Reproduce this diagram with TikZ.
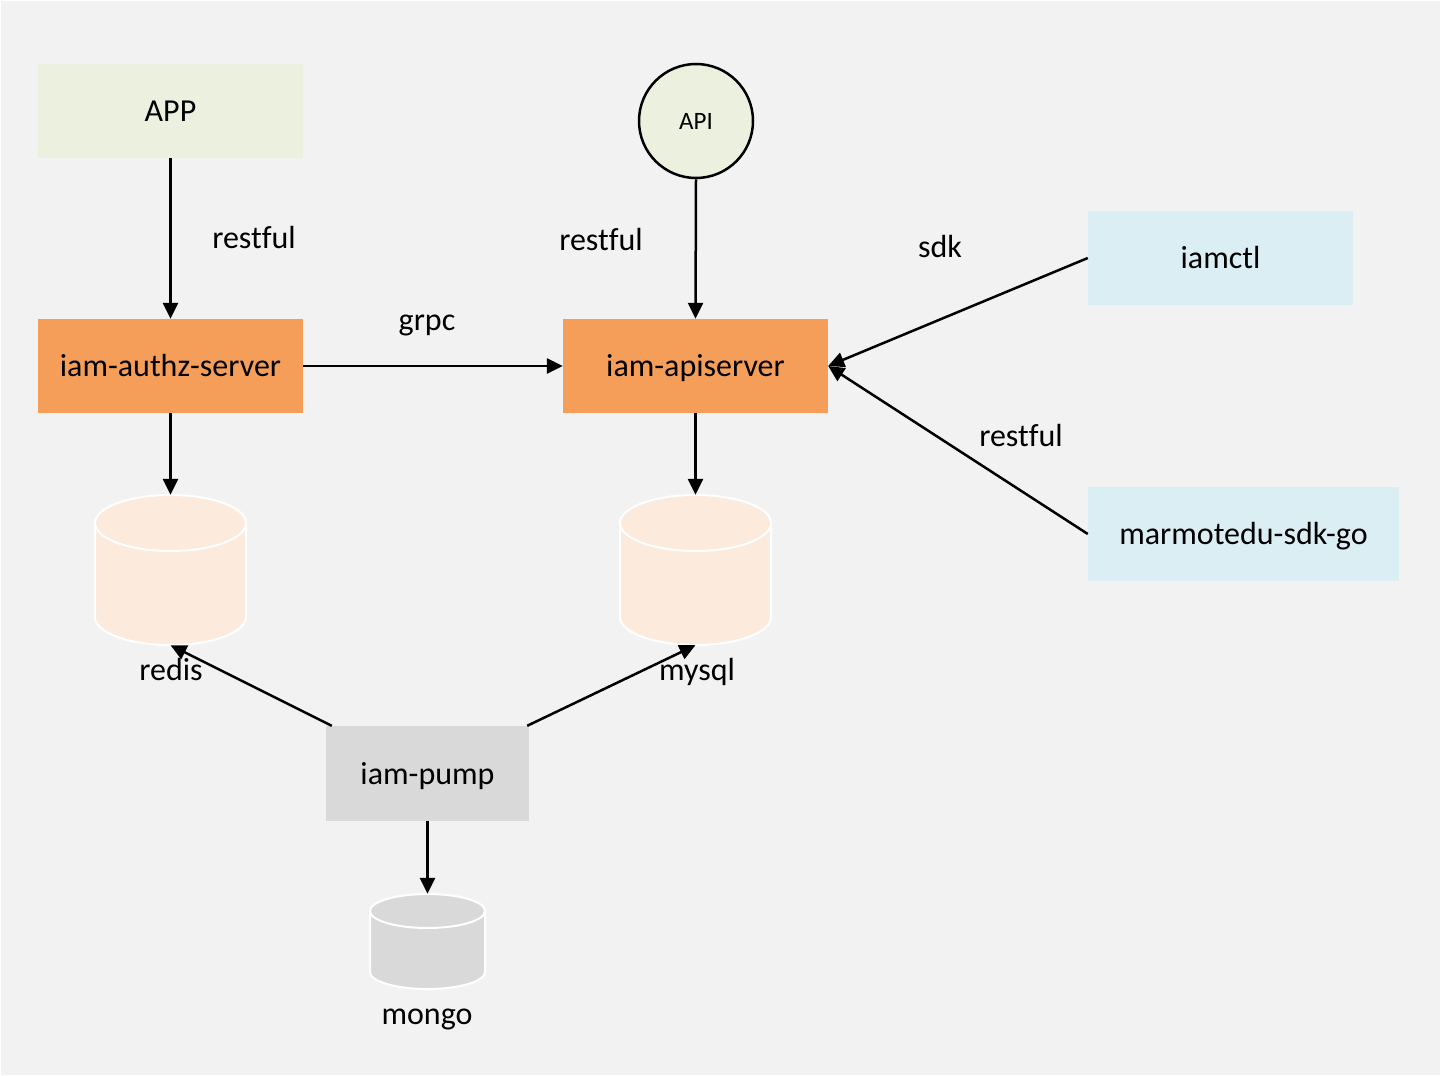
\documentclass[tikz,border=0pt]{standalone}
\usepackage{fontspec}
\setmainfont{Carlito}[Ligatures=NoCommon]
\usetikzlibrary{arrows.meta,calc}
\definecolor{bg}{HTML}{F2F2F2}
\definecolor{appgreen}{HTML}{EBF1DE}
\definecolor{srvorange}{HTML}{F59E5A}
\definecolor{cliblue}{HTML}{DAEEF3}
\definecolor{pumpgrey}{HTML}{D9D9D9}
\definecolor{dbpeach}{HTML}{FCEADC}
\tikzset{
  box/.style={inner sep=0pt, minimum width=265pt, minimum height=94pt, font=\fontsize{32}{38}\selectfont, text height=21pt, text depth=0pt},
  lbl/.style={inner sep=0pt, font=\fontsize{32}{38}\selectfont, text height=21pt, text depth=0pt},
  conn/.style={line width=2.5pt, -{Triangle[length=16pt,width=15pt]}},
  holder/.style={inner sep=0pt},
  cylline/.style={draw=white, line width=2pt}
}
\begin{document}
\begin{tikzpicture}[x=1pt,y=-1pt]
\useasboundingbox (0,0) rectangle (1441,1076);
\fill[white] (0,0) rectangle (1441,1076);
\fill[bg] (1,1) rectangle (1440,1075);

% boxes
\node[box, fill=appgreen] (app) at (170.5,111) {APP};
\node[circle, draw=black, line width=2.5pt, fill=appgreen, minimum size=114pt, inner sep=0pt, font=\fontsize{25}{30}\selectfont, text height=16.5pt, text depth=0pt] (api) at (696,121) {API};
\node[box, fill=srvorange] (authz) at (170.5,366) {iam-authz-server};
\node[box, fill=srvorange] (apisrv) at (695.5,366) {iam-apiserver};
\node[box, fill=cliblue] (iamctl) at (1220.5,258) {iamctl};
\node[box, fill=cliblue, minimum width=311pt] (sdk) at (1243.5,534) {marmotedu-sdk-go};
\node[box, fill=pumpgrey, minimum width=203pt, minimum height=95pt] (pump) at (427.5,773.5) {iam-pump};

% cylinders
\fill[dbpeach] (95,523) -- (95,617) arc[start angle=180,end angle=360,x radius=75.5pt,y radius=28pt] -- (246,523) arc[start angle=0,end angle=180,x radius=75.5pt,y radius=28pt] -- cycle;
\draw[cylline] (95,523) -- (95,617) arc[start angle=180,end angle=360,x radius=75.5pt,y radius=28pt] -- (246,523) arc[start angle=0,end angle=180,x radius=75.5pt,y radius=28pt] -- cycle;
\draw[cylline] (95,523) arc[start angle=180,end angle=360,x radius=75.5pt,y radius=28pt];
\node[holder, minimum width=151pt, minimum height=150pt] (redis) at (170.5,570) {};

\fill[dbpeach] (620,523) -- (620,617) arc[start angle=180,end angle=360,x radius=75.5pt,y radius=28pt] -- (771,523) arc[start angle=0,end angle=180,x radius=75.5pt,y radius=28pt] -- cycle;
\draw[cylline] (620,523) -- (620,617) arc[start angle=180,end angle=360,x radius=75.5pt,y radius=28pt] -- (771,523) arc[start angle=0,end angle=180,x radius=75.5pt,y radius=28pt] -- cycle;
\draw[cylline] (620,523) arc[start angle=180,end angle=360,x radius=75.5pt,y radius=28pt];
\node[holder, minimum width=151pt, minimum height=150pt] (mysql) at (695.5,570) {};

\fill[pumpgrey] (370,911) -- (370,972) arc[start angle=180,end angle=360,x radius=57.5pt,y radius=17pt] -- (485,911) arc[start angle=0,end angle=180,x radius=57.5pt,y radius=17pt] -- cycle;
\draw[cylline] (370,911) -- (370,972) arc[start angle=180,end angle=360,x radius=57.5pt,y radius=17pt] -- (485,911) arc[start angle=0,end angle=180,x radius=57.5pt,y radius=17pt] -- cycle;
\draw[cylline] (370,911) arc[start angle=180,end angle=360,x radius=57.5pt,y radius=17pt];
\node[holder, minimum width=115pt, minimum height=95pt] (mongo) at (427.5,941.5) {};

% db labels
\node[lbl] (redislbl) at (171,670) {redis};
\node[lbl] (mysqllbl) at (697,670) {mysql};
\node[lbl] (mongolbl) at (427,1014) {mongo};

% connectors
\draw[conn] (app.south) -- (authz.north);
\draw[conn] (api.south) -- (apisrv.north);
\draw[conn] (authz.east) -- (apisrv.west);
\draw[conn] (authz.south) -- (redis.north);
\draw[conn] (apisrv.south) -- (mysql.north);
\draw[conn] (iamctl.west) -- (apisrv.east);
\draw[conn] (sdk.west) -- (apisrv.east);
\draw[conn] ([xshift=6pt]pump.north west) -- (redis.south);
\draw[conn] ([xshift=-2pt]pump.north east) -- (mysql.south);
\draw[conn] (pump.south) -- (mongo.north);

% edge labels
\node[lbl] (l1) at (254,238) {restful};
\node[lbl] (l2) at (601,240) {restful};
\node[lbl] (l3) at (427,320) {grpc};
\node[lbl] (l4) at (940,247) {sdk};
\node[lbl] (l5) at (1021,436) {restful};
\end{tikzpicture}
\end{document}
